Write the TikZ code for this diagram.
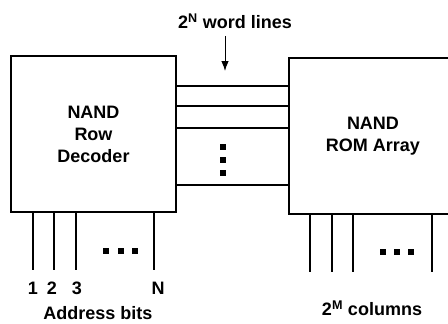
\documentclass[tikz,border=0pt]{standalone}
\usepackage{fontspec}
\setmainfont{Liberation Sans}
\usetikzlibrary{arrows.meta,positioning}
\tikzset{
  blockbox/.style={draw,line width=1.8pt,minimum width=165pt,minimum height=156pt,
    font=\fontsize{18}{22}\selectfont\bfseries,align=center},
  wire/.style={line width=1.6pt},
  lbl/.style={font=\fontsize{18}{22}\selectfont\bfseries,inner sep=0pt},
  sqdot/.style={fill,minimum size=5.5pt,inner sep=0pt}
}
\begin{document}
\begin{tikzpicture}[x=1pt,y=-1pt]
\useasboundingbox (0,0) rectangle (448,324);
\node[blockbox] (dec) at (93.5,134) {NAND\\Row\\Decoder};
\node[blockbox,minimum width=168pt] (rom) at (373,136) {NAND\\ROM Array};
% word lines
\foreach \yy in {86,106,128,185}
  \draw[wire] (dec.east |- 0,\yy) -- (rom.west |- 0,\yy);
\foreach \yy in {147,160,173}
  \node[sqdot] (vdot\yy) at (223,\yy) {};
\node[lbl] (wlines) at (235,21) {2\textsuperscript{N} word lines};
\coordinate (wtip) at (225,71);
\draw[wire,line width=1pt,-{Latex[length=10pt,width=7.5pt]},shorten <=7pt] (wlines.south -| wtip) -- (wtip);
% address bits
\foreach \xx/\tx/\lx in {33/1/33,54/2/52,76/3/77,154/N/158} {
  \coordinate (abit\tx) at (\xx,270);
  \draw[wire] (dec.south -| abit\tx) -- (abit\tx);
  \node[lbl] (alab\tx) at (\lx,288) {\tx};
}
\foreach \xx in {106,121,135}
  \node[sqdot] (adot\xx) at (\xx,251) {};
\node[lbl] (abits) at (98,313) {Address bits};
% columns
\foreach \xx in {310,332,353,432} {
  \coordinate (col\xx) at (\xx,272);
  \draw[wire] (rom.south -| col\xx) -- (col\xx);
}
\foreach \xx in {383,397,411}
  \node[sqdot] (cdot\xx) at (\xx,252) {};
\node[lbl] (cols) at (372,308) {2\textsuperscript{M} columns};
\end{tikzpicture}
\end{document}
